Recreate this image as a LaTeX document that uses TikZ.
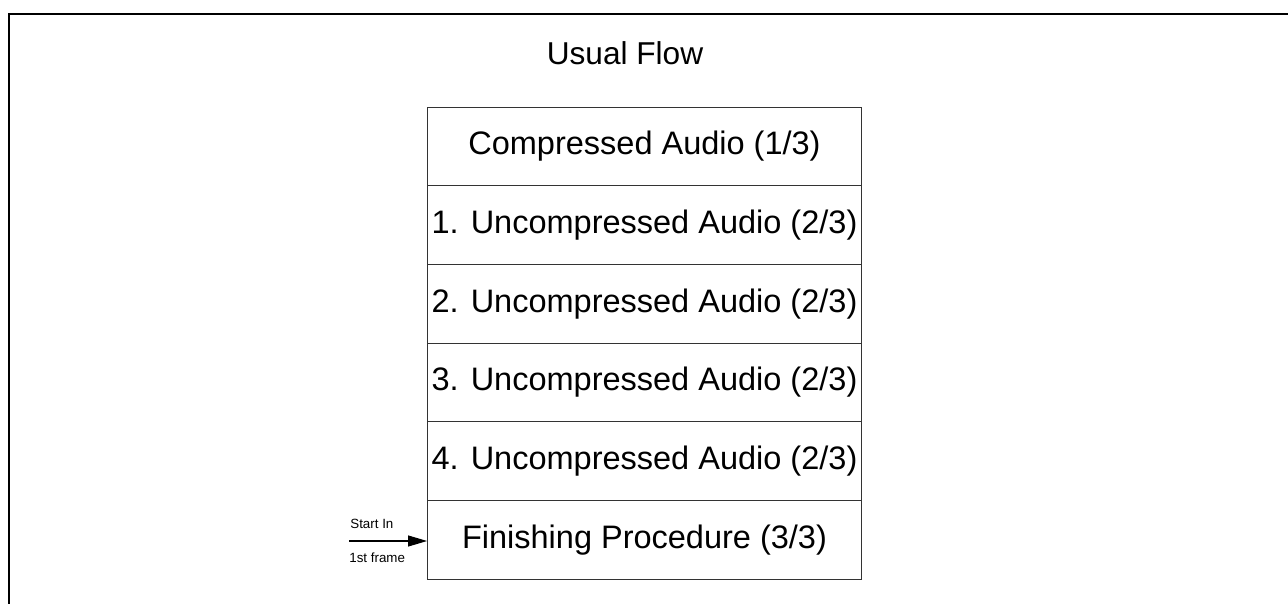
\documentclass[tikz,border=0pt]{standalone}
\usepackage{fontspec}
\setmainfont{Liberation Sans}
\usetikzlibrary{arrows.meta,positioning}

\begin{document}
\begin{tikzpicture}[x=0.02cm, y=-0.02cm,
    part/.style={draw=black!80, line width=0.6pt, minimum width=8.7cm, minimum height=1.574cm,
      inner sep=0pt, outer sep=0pt, font=\fontsize{18.5}{22}\selectfont},
    small/.style={inner sep=0pt, anchor=west, font=\fontsize{7.6}{9}\selectfont}]
  \useasboundingbox (0,0) rectangle (1288,604);
  % frame (cut at the right and at the bottom)
  \draw[line width=1.7pt] (9,604) -- (9,14) -- (1288,14);
  \node (title) at (625,53) {\fontsize{18}{22}\selectfont Usual Flow};
  % stacked parts
  \node[part] (comp) at (644.5,146.5) {Compressed Audio (1/3)};
  \node[part, below=0pt of comp] (unc1) {1. Uncompressed Audio (2/3)};
  \foreach \i [count=\j from 1] in {2,3,4}
    \node[part, below=0pt of unc\j] (unc\i) {\i. Uncompressed Audio (2/3)};
  \node[part, below=0pt of unc4] (fin) {Finishing Procedure (3/3)};
  % entry arrow
  \coordinate (entry) at (349,541);
  \draw[line width=0.6pt, -{Triangle[length=0.38cm, width=0.22cm]}] (entry) -- (entry -| fin.west);
  \node[small] (startin) at (350,524) {Start In};
  \node[small] (firstframe) at (349,558) {1st frame};
\end{tikzpicture}
\end{document}
